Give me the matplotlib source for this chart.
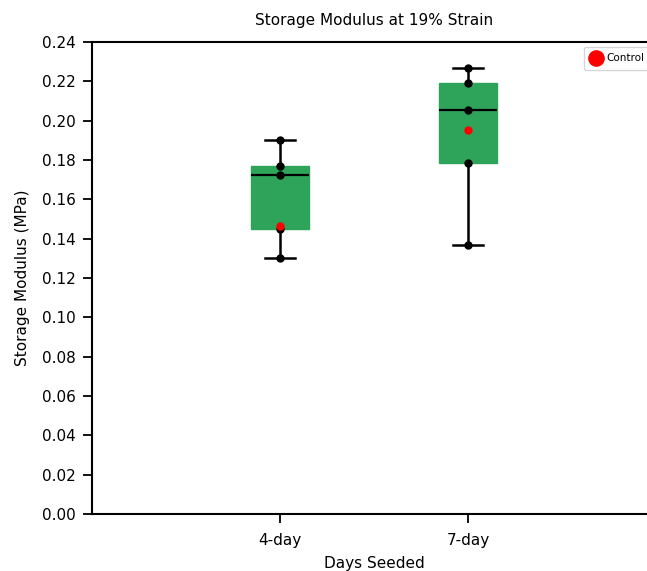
import numpy as np
import matplotlib
matplotlib.use('Agg')
import matplotlib.pyplot as plt

# Data
groups = ['4-day', '7-day']
day4 = [0.190, 0.177, 0.1725, 0.145, 0.130]
day7 = [0.227, 0.219, 0.2056, 0.1785, 0.137]
control = [0.1466, 0.1952]

green = '#2ea35a'

fig = plt.figure(figsize=(6.47, 5.71), dpi=100)
ax = fig.add_axes([0.1422, 0.0998, 0.8717, 0.8266])

positions = [1, 2]
ax.boxplot([day4, day7], positions=positions, widths=0.31, whis=(0, 100),
           patch_artist=True, showfliers=False,
           boxprops=dict(facecolor=green, edgecolor=green, linewidth=1),
           medianprops=dict(color='black', linewidth=1.6),
           whiskerprops=dict(color='black', linewidth=1.8),
           capprops=dict(color='black', linewidth=1.8))

for pos, vals in zip(positions, [day4, day7]):
    ax.plot([pos] * len(vals), vals, 'o', color='black', markersize=5, zorder=3)

ax.plot(positions, control, 'o', color='red', markersize=5, zorder=4,
        linestyle='none', label='Control')

ax.set_xlim(0, 3)
ax.set_ylim(0, 0.24)
ax.set_yticks(np.arange(0, 0.2401, 0.02))
ax.set_yticklabels([f'{v:.2f}' for v in np.arange(0, 0.2401, 0.02)])
ax.set_xticks(positions)
ax.set_xticklabels(groups)

ax.set_title('Storage Modulus at 19% Strain', fontsize=11, pad=12.5)
ax.set_xlabel('Days Seeded', fontsize=11, labelpad=6)
ax.set_ylabel('Storage Modulus (MPa)', fontsize=11, labelpad=9)

for s in ax.spines.values():
    s.set_linewidth(1.5)
ax.tick_params(axis='x', length=6.5, width=1.3, labelsize=11, pad=7)
ax.tick_params(axis='y', length=6.5, width=1.3, labelsize=11, pad=5)

ax.legend(loc='upper right', fontsize=7.5, markerscale=2.2, handletextpad=0.4,
          borderaxespad=0.5, handlelength=1.2, borderpad=0.6)

fig.savefig('out.png', dpi=100)
